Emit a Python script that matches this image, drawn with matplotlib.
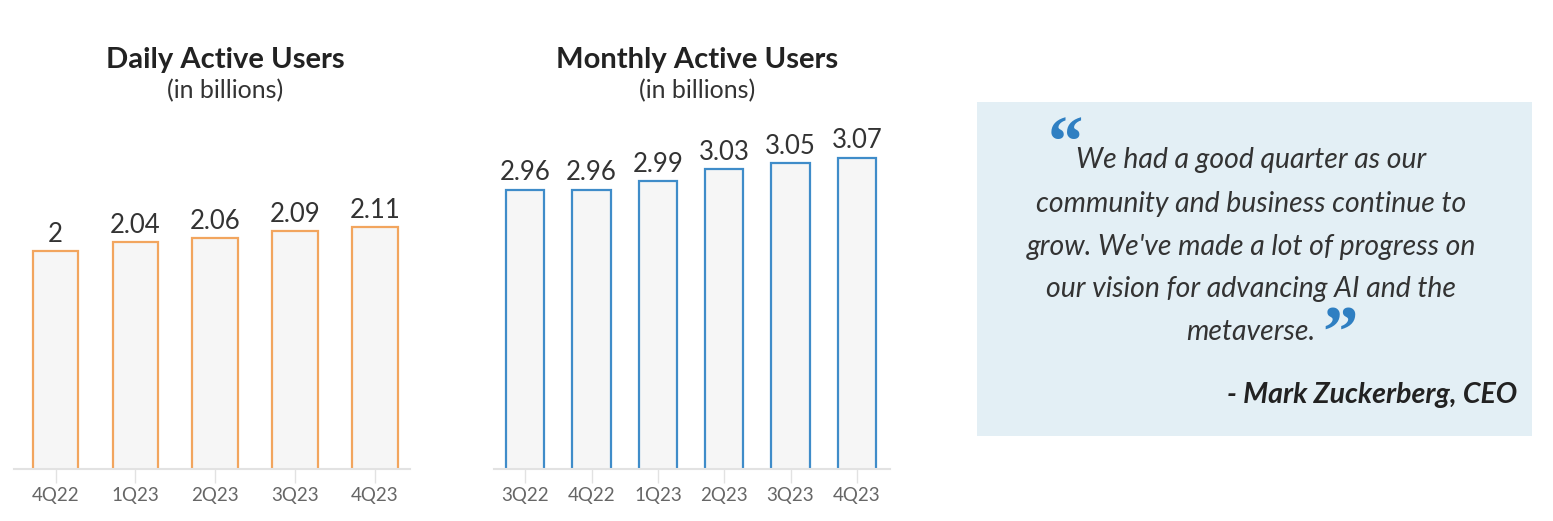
import matplotlib
matplotlib.use("Agg")
import matplotlib.pyplot as plt

# chart data
dau_quarters = ["4Q22", "1Q23", "2Q23", "3Q23", "4Q23"]
dau_values = [2.00, 2.04, 2.06, 2.09, 2.11]
dau_labels = ["2", "2.04", "2.06", "2.09", "2.11"]

mau_quarters = ["3Q22", "4Q22", "1Q23", "2Q23", "3Q23", "4Q23"]
mau_values = [2.96, 2.96, 2.99, 3.03, 3.05, 3.07]
mau_labels = ["2.96", "2.96", "2.99", "3.03", "3.05", "3.07"]

quote_lines = [
    "We had a good quarter as our",
    "community and business continue to",
    "grow. We've made a lot of progress on",
    "our vision for advancing AI and the",
    "metaverse.",
]
quote_author = "- Mark Zuckerberg, CEO"

plt.rcParams["font.family"] = ["Lato", "DejaVu Sans"]

W, H = 1553, 521
fig = plt.figure(figsize=(W / 100, H / 100), dpi=100)
fig.patch.set_facecolor("white")


def px_axes(x0, y0, x1, y1):
    # axes from image pixel box (top-left origin)
    return fig.add_axes([x0 / W, 1 - y1 / H, (x1 - x0) / W, (y1 - y0) / H])


def bar_panel(ax, cats, vals, labels, edge, ymin, ymax, width, xlim):
    xs = range(len(cats))
    ax.bar(xs, vals, width=width, bottom=0, color="#f6f6f6",
           edgecolor=edge, linewidth=1.6, zorder=2)
    for x, v, lab in zip(xs, vals, labels):
        ax.annotate(lab, (x, v), xytext=(0, 3), textcoords="offset points",
                    ha="center", va="bottom", fontsize=18.5, color="#333333")
    ax.set_ylim(ymin, ymax)
    ax.set_xlim(*xlim)
    for s in ["top", "right", "left"]:
        ax.spines[s].set_visible(False)
    ax.spines["bottom"].set_color("#e2e2e2")
    ax.spines["bottom"].set_linewidth(1.5)
    ax.set_yticks([])
    ax.set_xticks(list(xs))
    ax.set_xticklabels(cats)
    ax.tick_params(axis="x", length=10, width=1, color="#e2e2e2",
                   labelsize=13.5, labelcolor="#666666", pad=3)
    ax.patch.set_alpha(0)


# Daily Active Users
ax1 = px_axes(14, 109, 410, 469)
bar_panel(ax1, dau_quarters, dau_values, dau_labels, "#f2a55e",
          1.0, 1.0 + 360 / 218, 0.57, (-0.52, 4.44))
fig.text(225 / W, 1 - 60 / H, "Daily Active Users", ha="center", va="center",
         fontsize=21, fontweight="bold", color="#222222")
fig.text(225 / W, 1 - 91 / H, "(in billions)", ha="center", va="center",
         fontsize=18, color="#333333")

# Monthly Active Users
ax2 = px_axes(494, 109, 890, 469)
bar_panel(ax2, mau_quarters, mau_values, mau_labels, "#3f8cc9",
          2.0, 2.0 + 360 / 291, 0.58, (-0.47, 5.5))
fig.text(697 / W, 1 - 60 / H, "Monthly Active Users", ha="center", va="center",
         fontsize=21, fontweight="bold", color="#222222")
fig.text(697 / W, 1 - 91 / H, "(in billions)", ha="center", va="center",
         fontsize=18, color="#333333")

# quote box, coordinates in image pixels
axq = px_axes(977, 102, 1532, 436)
axq.set_xlim(977, 1532)
axq.set_ylim(436, 102)
axq.set_facecolor("#e3eff5")
for s in axq.spines.values():
    s.set_visible(False)
axq.set_xticks([])
axq.set_yticks([])

line_y = [160, 204, 247, 289, 332]
for y, line in zip(line_y, quote_lines):
    axq.text(1251, y, line, ha="center", va="center", fontsize=20.4,
             style="italic", color="#333333")
axq.text(1065, 165, "\u201c", ha="center", va="baseline", fontsize=51,
         fontweight="bold", family="Liberation Serif", color="#2f7fc2")
axq.text(1340, 355, "\u201d", ha="center", va="baseline", fontsize=51,
         fontweight="bold", family="Liberation Serif", color="#2f7fc2")
axq.text(1517, 395, quote_author, ha="right", va="center", fontsize=20.5,
         style="italic", fontweight="bold", color="#222222")

fig.savefig("out.png", dpi=100)
